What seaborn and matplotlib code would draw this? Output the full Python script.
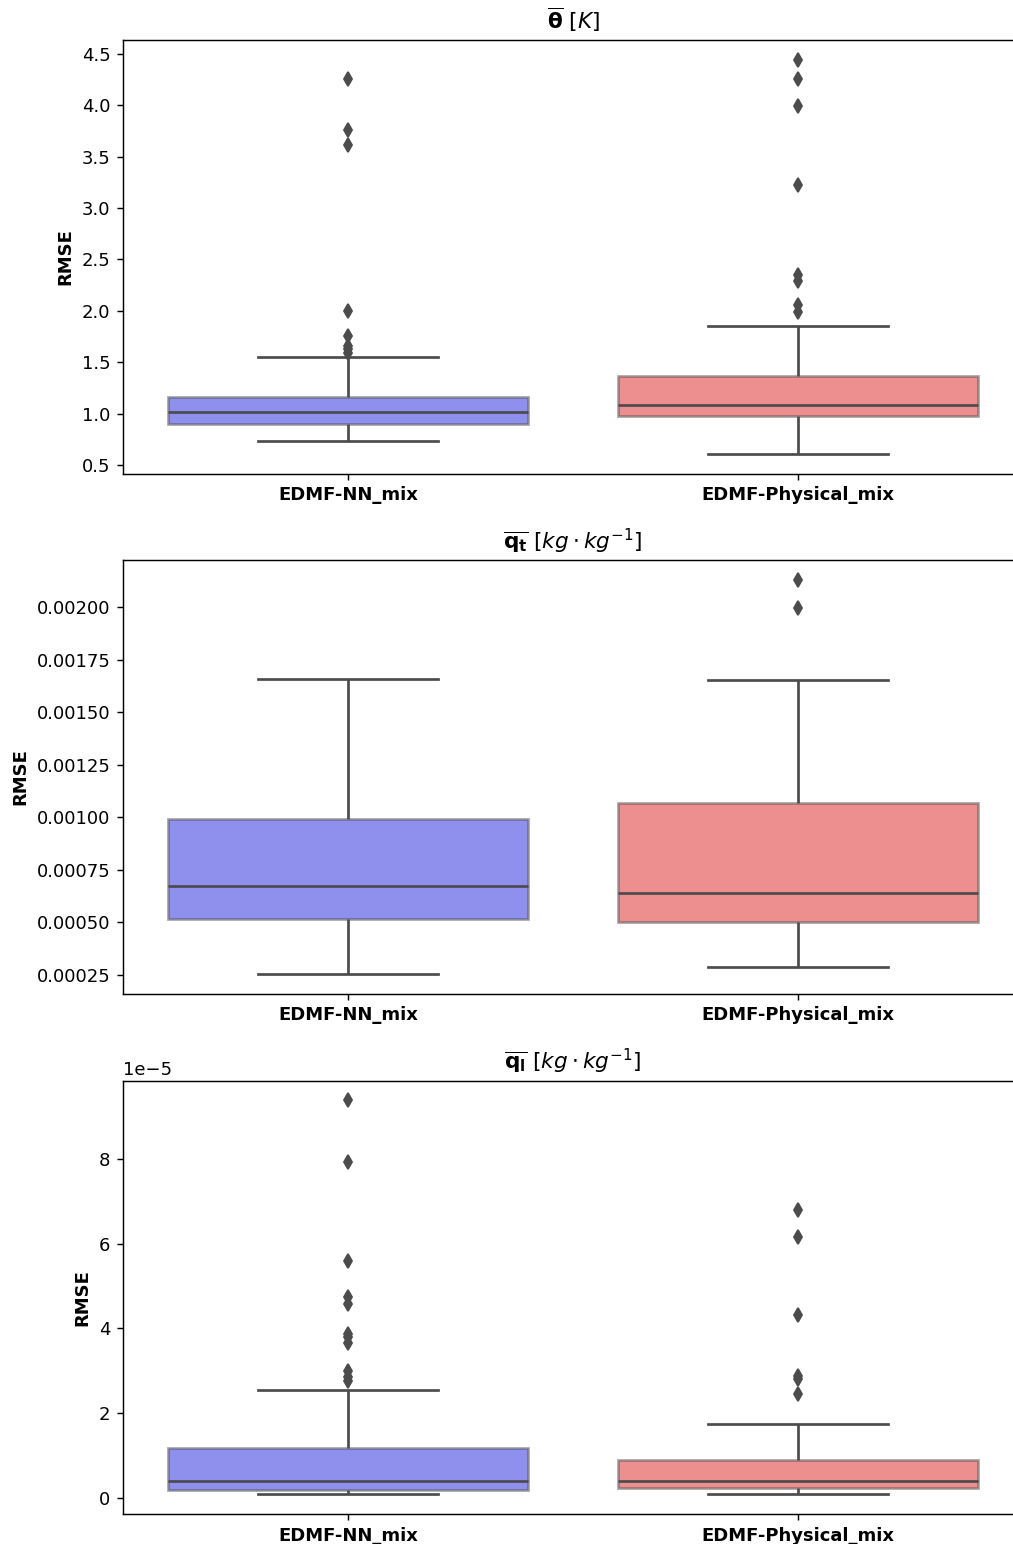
import matplotlib
matplotlib.use('Agg')
import matplotlib.pyplot as plt
import pandas as pd
import seaborn as sns

# model names on the x axis
models = ['EDMF-NN_mix', 'EDMF-Physical_mix']

# RMSE of theta [K]
theta_nn = [0.733, 0.76, 0.79, 0.82, 0.84, 0.86, 0.875, 0.885, 0.895,
            0.907, 0.92, 0.93, 0.94, 0.955, 0.97, 0.985, 0.995, 1.005,
            1.018, 1.03, 1.045, 1.06, 1.075, 1.09, 1.11, 1.13, 1.15,
            1.168, 1.553, 1.59, 1.63, 1.66, 1.76, 2.0, 3.61, 3.76, 4.25]
theta_phys = [0.613, 0.70, 0.78, 0.84, 0.88, 0.91, 0.935, 0.95, 0.965,
              0.978, 0.99, 1.0, 1.01, 1.025, 1.04, 1.055, 1.065, 1.078,
              1.088, 1.11, 1.14, 1.17, 1.20, 1.24, 1.28, 1.31, 1.34,
              1.365, 1.859, 1.995, 2.06, 2.29, 2.35, 3.22, 3.99, 4.25, 4.44]

# RMSE of q_t [kg/kg]
qt_nn = [0.000253, 0.000516, 0.000674, 0.000990, 0.001660]
qt_phys = [0.000286, 0.00039, 0.00046, 0.000503, 0.00055, 0.0006, 0.000639,
           0.00078, 0.00094, 0.001067, 0.001652, 0.001997, 0.00213]

# RMSE of q_l [kg/kg], in units of 1e-5
ql_nn = [0.103, 0.11, 0.12, 0.13, 0.14, 0.15, 0.155, 0.16, 0.165, 0.17, 0.175, 0.18,
         0.188, 0.20, 0.21, 0.23, 0.25, 0.27, 0.29, 0.31, 0.33, 0.35, 0.365, 0.38,
         0.393, 0.43, 0.48, 0.53, 0.59, 0.65, 0.72, 0.80, 0.88, 0.96, 1.04, 1.11,
         1.169, 2.558, 2.75, 2.85, 3.0, 3.65, 3.8, 3.87, 4.57, 4.73, 5.58, 7.93, 9.38]
ql_phys = [0.087, 0.11, 0.14, 0.16, 0.18, 0.20, 0.215,
           0.228, 0.25, 0.28, 0.31, 0.34, 0.37, 0.39,
           0.409, 0.45, 0.52, 0.59, 0.67, 0.75, 0.83,
           0.904, 1.734, 2.456, 2.81, 2.87, 4.315, 6.165, 6.786]

titles = [r'$\overline{\mathbf{\theta}}$ $[K]$',
          r'$\overline{\mathbf{q_t}}$ $[kg \cdot kg^{-1}]$',
          r'$\overline{\mathbf{q_l}}$ $[kg \cdot kg^{-1}]$']


def make_frame(a, b, scale=1.0):
    return pd.DataFrame({'model': [models[0]] * len(a) + [models[1]] * len(b),
                         'RMSE': [v * scale for v in a + b]})


frames = [make_frame(theta_nn, theta_phys),
          make_frame(qt_nn, qt_phys),
          make_frame(ql_nn, ql_phys, 1e-5)]

fig, axes = plt.subplots(3, 1, figsize=(1013 / 130, 1544 / 130), dpi=130)
# the right side of the axes is cut off by the picture edge, as in the original
plt.subplots_adjust(left=123 / 1013, right=1023 / 1013, top=0.9741, bottom=0.0194, hspace=0.2)

for ax, df, title in zip(axes, frames, titles):
    sns.boxplot(data=df, x='model', y='RMSE', hue='model', palette=['blue', 'red'],
                legend=False, ax=ax, linecolor='#4c4c4c', linewidth=1.5,
                boxprops={'alpha': 0.5},
                flierprops={'marker': 'd', 'markerfacecolor': '#4c4c4c',
                            'markeredgecolor': '#4c4c4c', 'markersize': 5.5})
    ax.set_title(title)
    ax.set_xlabel('')
    ax.set_ylabel('RMSE', fontweight='bold')
    for lbl in ax.get_xticklabels():
        lbl.set_fontweight('bold')

fig.savefig('out.png', dpi=130)
